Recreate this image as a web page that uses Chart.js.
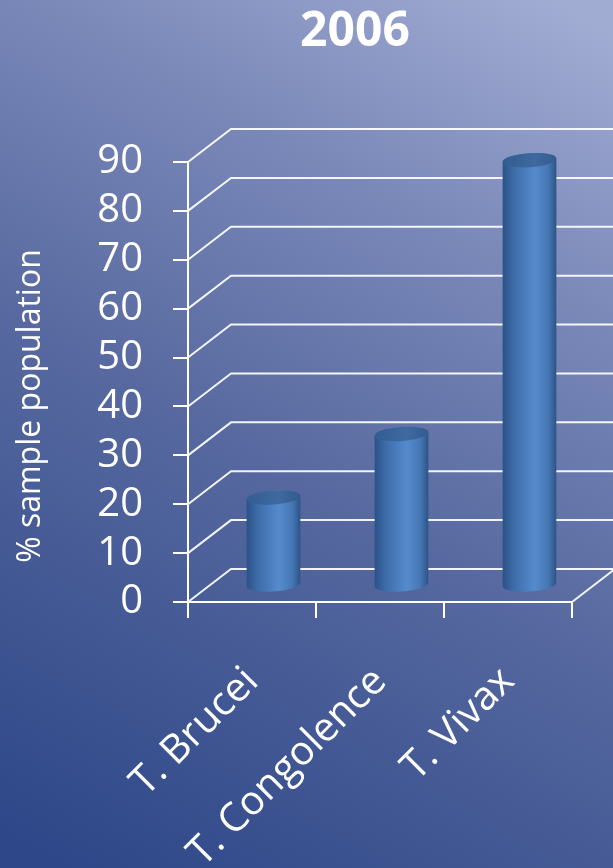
<!DOCTYPE html>
<html>
<head>
<meta charset="utf-8">
<title>2006</title>
<script src="https://cdn.jsdelivr.net/npm/chart.js@4.4.0/dist/chart.umd.min.js"></script>
<style>
  html, body { margin: 0; padding: 0; overflow: hidden; background: #4a5c9c; }
  canvas { display: block; }
</style>
</head>
<body>
<canvas id="myChart" width="613" height="868"></canvas>
<script>
const labels = ['T. Brucei', 'T. Congolence', 'T. Vivax'];
const values = [18, 31, 87]; // % of sampled population
const yTicks = [0, 10, 20, 30, 40, 50, 60, 70, 80, 90];
const chartTitle = '2006';
const yTitle = '% sample population';

// depth of the fake 3D box (front plane -> back wall)
const depthX = 43;
const depthY = 33;
const fontFamily = '"Open Sans", "DejaVu Sans", sans-serif';

const box3d = {
    id: 'box3d',
    beforeDraw(chart) {
        const { ctx, width, height } = chart;
        // background: dark blue bottom-left to pale lavender top-right
        const g = ctx.createLinearGradient(width * 0.1, height, width * 0.9, 0);
        g.addColorStop(0, '#2d4788');
        g.addColorStop(0.45, '#56689f');
        g.addColorStop(0.75, '#7b89b9');
        g.addColorStop(1, '#a1acd3');
        ctx.save();
        ctx.fillStyle = g;
        ctx.fillRect(0, 0, width, height);
        ctx.restore();
    },
    beforeDatasetsDraw(chart) {
        const { ctx, chartArea, scales: { y } } = chart;
        ctx.save();
        ctx.strokeStyle = 'rgba(255,255,255,0.92)';
        ctx.lineWidth = 2;
        // side wall diagonals + back wall gridlines
        yTicks.forEach(v => {
            const py = y.getPixelForValue(v);
            ctx.beginPath();
            ctx.moveTo(chartArea.left, py);
            ctx.lineTo(chartArea.left + depthX, py - depthY);
            ctx.lineTo(chart.width, py - depthY);
            ctx.stroke();
        });
        // right edge of the floor
        const py0 = y.getPixelForValue(0);
        ctx.beginPath();
        ctx.moveTo(chartArea.right, py0);
        ctx.lineTo(chartArea.right + depthX, py0 - depthY);
        ctx.stroke();
        ctx.restore();
    },
    beforeDatasetDraw(chart, args) {
        const ctx = chart.ctx;
        args.meta.data.forEach(bar => {
            const cx = bar.x + depthX / 2;
            const rx = bar.width / 2;
            const ry = 7;
            const tilt = -0.07;
            const top = bar.y - depthY / 2;
            const base = bar.base - depthY / 2;

            ctx.save();
            // cylinder body
            const g = ctx.createLinearGradient(cx - rx, 0, cx + rx, 0);
            g.addColorStop(0, '#2c5287');
            g.addColorStop(0.2, '#3d6ba8');
            g.addColorStop(0.6, '#558bcd');
            g.addColorStop(0.85, '#4676b4');
            g.addColorStop(1, '#2d5386');
            ctx.fillStyle = g;
            ctx.beginPath();
            ctx.moveTo(cx - rx, top);
            ctx.lineTo(cx - rx, base);
            ctx.ellipse(cx, base, rx, ry, tilt, Math.PI, 0, true);
            ctx.lineTo(cx + rx, top);
            ctx.ellipse(cx, top, rx, ry, tilt, 0, Math.PI, true);
            ctx.closePath();
            ctx.fill();

            // cylinder cap
            const c = ctx.createLinearGradient(cx - rx, 0, cx + rx, 0);
            c.addColorStop(0, '#335d92');
            c.addColorStop(0.6, '#3f6a9f');
            c.addColorStop(1, '#335b8e');
            ctx.fillStyle = c;
            ctx.beginPath();
            ctx.ellipse(cx, top, rx, ry, tilt, 0, Math.PI * 2);
            ctx.fill();
            ctx.restore();
        });
        return false;
    },
    afterDraw(chart) {
        const { ctx, chartArea } = chart;
        ctx.save();
        ctx.fillStyle = '#ffffff';
        ctx.textAlign = 'center';
        ctx.textBaseline = 'middle';
        ctx.font = 'bold 48px ' + fontFamily;
        ctx.fillText(chartTitle, 355, 32);

        ctx.font = '32px ' + fontFamily;
        ctx.translate(31, (chartArea.top + chartArea.bottom) / 2 + 24);
        ctx.rotate(-Math.PI / 2);
        ctx.fillText(yTitle, 0, 0);
        ctx.restore();
    }
};

const data = {
    labels: labels,
    datasets: [{
        label: chartTitle,
        data: values,
        backgroundColor: '#4f81bd',
        barPercentage: 0.42,
        categoryPercentage: 1
    }]
};

const config = {
    type: 'bar',
    data,
    options: {
        responsive: false,
        animation: false,
        layout: {
            padding: { top: 162, right: 41, bottom: 0, left: 0 }
        },
        plugins: {
            legend: { display: false },
            tooltip: { enabled: false }
        },
        scales: {
            x: {
                grid: { display: true, drawOnChartArea: false, drawTicks: true, tickLength: 16, color: '#ffffff', lineWidth: 2, offset: true },
                border: { display: true, color: '#ffffff', width: 2 },
                ticks: {
                    color: '#ffffff',
                    font: { family: fontFamily, size: 40 },
                    minRotation: 45,
                    maxRotation: 45,
                    autoSkip: false,
                    padding: 40
                },
                afterFit(scale) { scale.height = 266; }
            },
            y: {
                min: 0,
                max: 90,
                afterBuildTicks(scale) { scale.ticks = yTicks.map(v => ({ value: v })); },
                grid: { display: true, drawOnChartArea: false, drawTicks: true, tickLength: 15, color: '#ffffff', lineWidth: 2 },
                border: { display: true, color: '#ffffff', width: 2 },
                ticks: {
                    color: '#ffffff',
                    font: { family: fontFamily, size: 40 },
                    autoSkip: false,
                    padding: 30
                },
                afterFit(scale) { scale.width = 188; }
            }
        }
    },
    plugins: [box3d]
};

const myChart = new Chart(document.getElementById('myChart'), config);
</script>
</body>
</html>
